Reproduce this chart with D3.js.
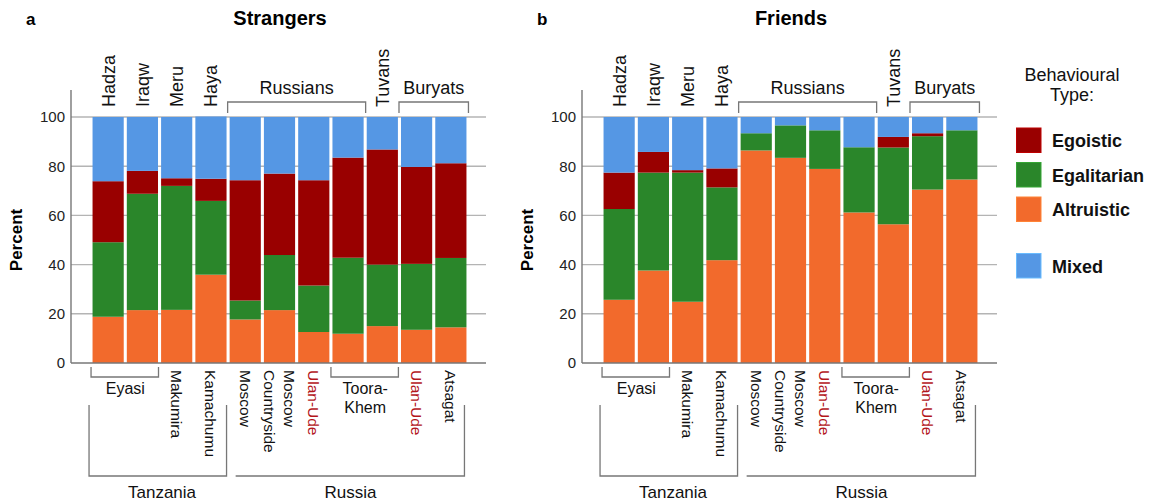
<!DOCTYPE html>
<html>
<head>
<meta charset="utf-8">
<script src="https://cdn.jsdelivr.net/npm/d3@7"></script>
<style>
  body { margin: 0; background: #fff; }
  svg { font-family: Arial, "Liberation Sans", sans-serif; }
</style>
</head>
<body>
<svg id="chart" width="1158" height="504"></svg>
<script>
// groups / sites, left to right
var sites = ['Hadza', 'Iraqw', 'Meru', 'Haya', 'Moscow', 'Moscow Countryside', 'Ulan-Ude (Russians)',
  'Toora-Khem (Russians)', 'Toora-Khem (Tuvans)', 'Ulan-Ude (Buryats)', 'Atsagat']

// percent of each behavioural type, strangers
var strangersAltruistic = [18.8, 21.5, 21.6, 35.9, 17.7, 21.5, 12.6, 11.9, 15.0, 13.5, 14.5]
var strangersEgalitarian = [30.3, 47.3, 50.4, 30.0, 7.7, 22.4, 18.9, 30.9, 25.0, 26.8, 28.2]
var strangersEgoistic = [24.8, 9.3, 3.1, 9.0, 48.9, 33.1, 42.8, 40.7, 46.8, 39.4, 38.5]
var strangersMixed = [26.1, 21.9, 24.9, 25.3, 25.7, 23.0, 25.7, 16.5, 13.2, 20.3, 18.8]

// friends
var friendsAltruistic = [25.7, 37.6, 24.9, 41.8, 86.4, 83.4, 78.9, 61.2, 56.4, 70.5, 74.6]
var friendsEgalitarian = [36.9, 39.8, 52.5, 29.6, 7.0, 13.2, 15.7, 26.5, 31.2, 21.7, 20.0]
var friendsEgoistic = [14.8, 8.4, 1.0, 7.7, 0, 0, 0, 0, 4.3, 1.2, 0]
var friendsMixed = [22.6, 14.2, 21.6, 20.9, 6.6, 3.4, 5.4, 12.3, 8.1, 6.6, 5.4]

var types = ['Altruistic', 'Egalitarian', 'Egoistic', 'Mixed']
var legendOrder = ['Egoistic', 'Egalitarian', 'Altruistic', 'Mixed']
var yTicks = [0, 20, 40, 60, 80, 100]

// labels above the bars: [text, first bar, last bar, bracket?]
var topLabels = [
  ['Hadza', 0, 0, false], ['Iraqw', 1, 1, false], ['Meru', 2, 2, false], ['Haya', 3, 3, false],
  ['Russians', 4, 7, true], ['Tuvans', 8, 8, false], ['Buryats', 9, 10, true]
]
// labels below the bars: [lines, first bar, last bar, bracket?, red?]
var bottomLabels = [
  [['Eyasi'], 0, 1, true, false], [['Makumira'], 2, 2, false, false], [['Kamachumu'], 3, 3, false, false],
  [['Moscow'], 4, 4, false, false], [['Moscow', 'Countryside'], 5, 5, false, false],
  [['Ulan-Ude'], 6, 6, false, true], [['Toora-', 'Khem'], 7, 8, true, false],
  [['Ulan-Ude'], 9, 9, false, true], [['Atsagat'], 10, 10, false, false]
]
var countries = [['Tanzania', 0, 3], ['Russia', 4, 10]]

var colors = {
  Egoistic: '#990000',
  Egalitarian: '#2a862a',
  Altruistic: '#f26a2c',
  Mixed: '#5597e4'
}
var lineColor = '#777'
var gridColor = '#b4b4b4'

var svg = d3.select('#chart')

function makeRows (alt, egal, ego, mixed) {
  return sites.map(function (s, i) {
    return { site: i, Altruistic: alt[i], Egalitarian: egal[i], Egoistic: ego[i], Mixed: mixed[i] }
  })
}

function drawPanel (dx, letter, title, rows) {
  var g = svg.append('g').attr('transform', 'translate(' + dx + ',0)')
  var left = 71
  var right = 486

  var x = d3.scaleBand()
    .domain(d3.range(sites.length))
    .range([91, 468])
    .paddingInner(0.09)
    .paddingOuter(0.045)
  var y = d3.scaleLinear().domain([0, 100]).range([363, 117])

  // gridlines
  g.append('g').selectAll('line')
    .data(yTicks.slice(1))
    .enter().append('line')
    .attr('x1', left).attr('x2', right)
    .attr('y1', function (d) { return y(d) })
    .attr('y2', function (d) { return y(d) })
    .attr('stroke', gridColor)
    .attr('stroke-width', 1.4)

  var stack = d3.stack().keys(types)(rows)
  g.append('g').selectAll('g')
    .data(stack)
    .enter().append('g')
    .attr('fill', function (d) { return colors[d.key] })
    .selectAll('rect')
    .data(function (d) { return d })
    .enter().append('rect')
    .attr('x', function (d) { return x(d.data.site) })
    .attr('width', x.bandwidth())
    .attr('y', function (d) { return y(d[1]) })
    .attr('height', function (d) { return Math.max(0, y(d[0]) - y(d[1])) })

  // axes
  var yAxis = g.append('g')
    .attr('transform', 'translate(' + left + ',0)')
    .call(d3.axisLeft(y).tickValues(yTicks).tickSize(0).tickPadding(6))
  yAxis.select('.domain').remove()
  yAxis.selectAll('text').attr('font-size', 15).attr('fill', '#222').attr('font-family', 'Arial, "Liberation Sans", sans-serif')
  g.append('line').attr('x1', left).attr('x2', left).attr('y1', 90).attr('y2', y(0))
    .attr('stroke', lineColor).attr('stroke-width', 1.4)
  g.append('line').attr('x1', left).attr('x2', right).attr('y1', y(0)).attr('y2', y(0))
    .attr('stroke', lineColor).attr('stroke-width', 1.4)

  g.append('text')
    .attr('transform', 'translate(22,240) rotate(-90)')
    .attr('text-anchor', 'middle')
    .attr('font-size', 17).attr('font-weight', 'bold')
    .text('Percent')

  g.append('text').attr('x', 26).attr('y', 25)
    .attr('font-size', 17).attr('font-weight', 'bold').text(letter)
  g.append('text').attr('x', 280).attr('y', 25)
    .attr('text-anchor', 'middle')
    .attr('font-size', 20).attr('font-weight', 'bold').text(title)

  // labels above
  topLabels.forEach(function (t) {
    var x0 = x(t[1])
    var x1 = x(t[2]) + x.bandwidth()
    var cx = (x0 + x1) / 2
    if (t[3]) {
      g.append('path')
        .attr('d', 'M' + (x0 - 2) + ',113V102H' + (x1 + 2) + 'V113')
        .attr('fill', 'none').attr('stroke', lineColor).attr('stroke-width', 1.3)
      g.append('text').attr('x', cx).attr('y', 94)
        .attr('text-anchor', 'middle').attr('font-size', 18).attr('fill', '#111')
        .text(t[0])
    } else {
      g.append('text')
        .attr('transform', 'translate(' + (cx + 6.5) + ',107) rotate(-90)')
        .attr('font-size', 18).attr('fill', '#111')
        .text(t[0])
    }
  })

  // labels below
  bottomLabels.forEach(function (t) {
    var x0 = x(t[1])
    var x1 = x(t[2]) + x.bandwidth()
    var cx = (x0 + x1) / 2
    var fill = t[4] ? '#b3151b' : '#111'
    if (t[3]) {
      g.append('path')
        .attr('d', 'M' + (x0 - 1.5) + ',367V377H' + (x1 + 0.5) + 'V367')
        .attr('fill', 'none').attr('stroke', lineColor).attr('stroke-width', 1.3)
      t[0].forEach(function (line, i) {
        g.append('text').attr('x', cx).attr('y', 394 + i * 19)
          .attr('text-anchor', 'middle').attr('font-size', 16).attr('fill', fill)
          .text(line)
      })
    } else {
      var n = t[0].length
      t[0].forEach(function (line, i) {
        var off = (n - 1) * 10 - i * 20
        g.append('text')
          .attr('transform', 'translate(' + (cx + off - 5.5) + ',370) rotate(90)')
          .attr('font-size', 15.5).attr('fill', fill)
          .text(line)
      })
    }
  })

  // country brackets
  countries.forEach(function (c, i) {
    var x0 = x(c[1])
    var x1 = x(c[2]) + x.bandwidth()
    var d = i === 0
      ? 'M' + (x0 - 3.5) + ',405V476H' + x1 + 'V405'
      : 'M' + (x0 + 6) + ',476H' + (x1 - 2) + 'V405'
    g.append('path').attr('d', d)
      .attr('fill', 'none').attr('stroke', lineColor).attr('stroke-width', 1.3)
    g.append('text')
      .attr('x', (x0 + x1) / 2 + 2.5)
      .attr('y', 498)
      .attr('text-anchor', 'middle').attr('font-size', 17).attr('fill', '#111')
      .text(c[0])
  })
}

drawPanel(0, 'a', 'Strangers', makeRows(strangersAltruistic, strangersEgalitarian, strangersEgoistic, strangersMixed))
drawPanel(511, 'b', 'Friends', makeRows(friendsAltruistic, friendsEgalitarian, friendsEgoistic, friendsMixed))

// legend
var legend = svg.append('g')
legend.append('text').attr('x', 1072).attr('y', 81)
  .attr('text-anchor', 'middle').attr('font-size', 18).attr('fill', '#111')
  .text('Behavioural')
legend.append('text').attr('x', 1072).attr('y', 101)
  .attr('text-anchor', 'middle').attr('font-size', 18).attr('fill', '#111')
  .text('Type:')
var legendY = { Egoistic: 128, Egalitarian: 162.5, Altruistic: 197, Mixed: 253.5 }
legendOrder.forEach(function (k) {
  var yy = legendY[k]
  legend.append('rect')
    .attr('x', 1016.5).attr('y', yy).attr('width', 24.5).attr('height', 24.5)
    .attr('fill', colors[k])
    .attr('stroke', d3.color(colors[k]).brighter(0.6)).attr('stroke-width', 1)
  legend.append('text').attr('x', 1052).attr('y', yy + 19)
    .attr('font-size', 18).attr('font-weight', 'bold').attr('fill', '#111')
    .text(k)
})
</script>
</body>
</html>
